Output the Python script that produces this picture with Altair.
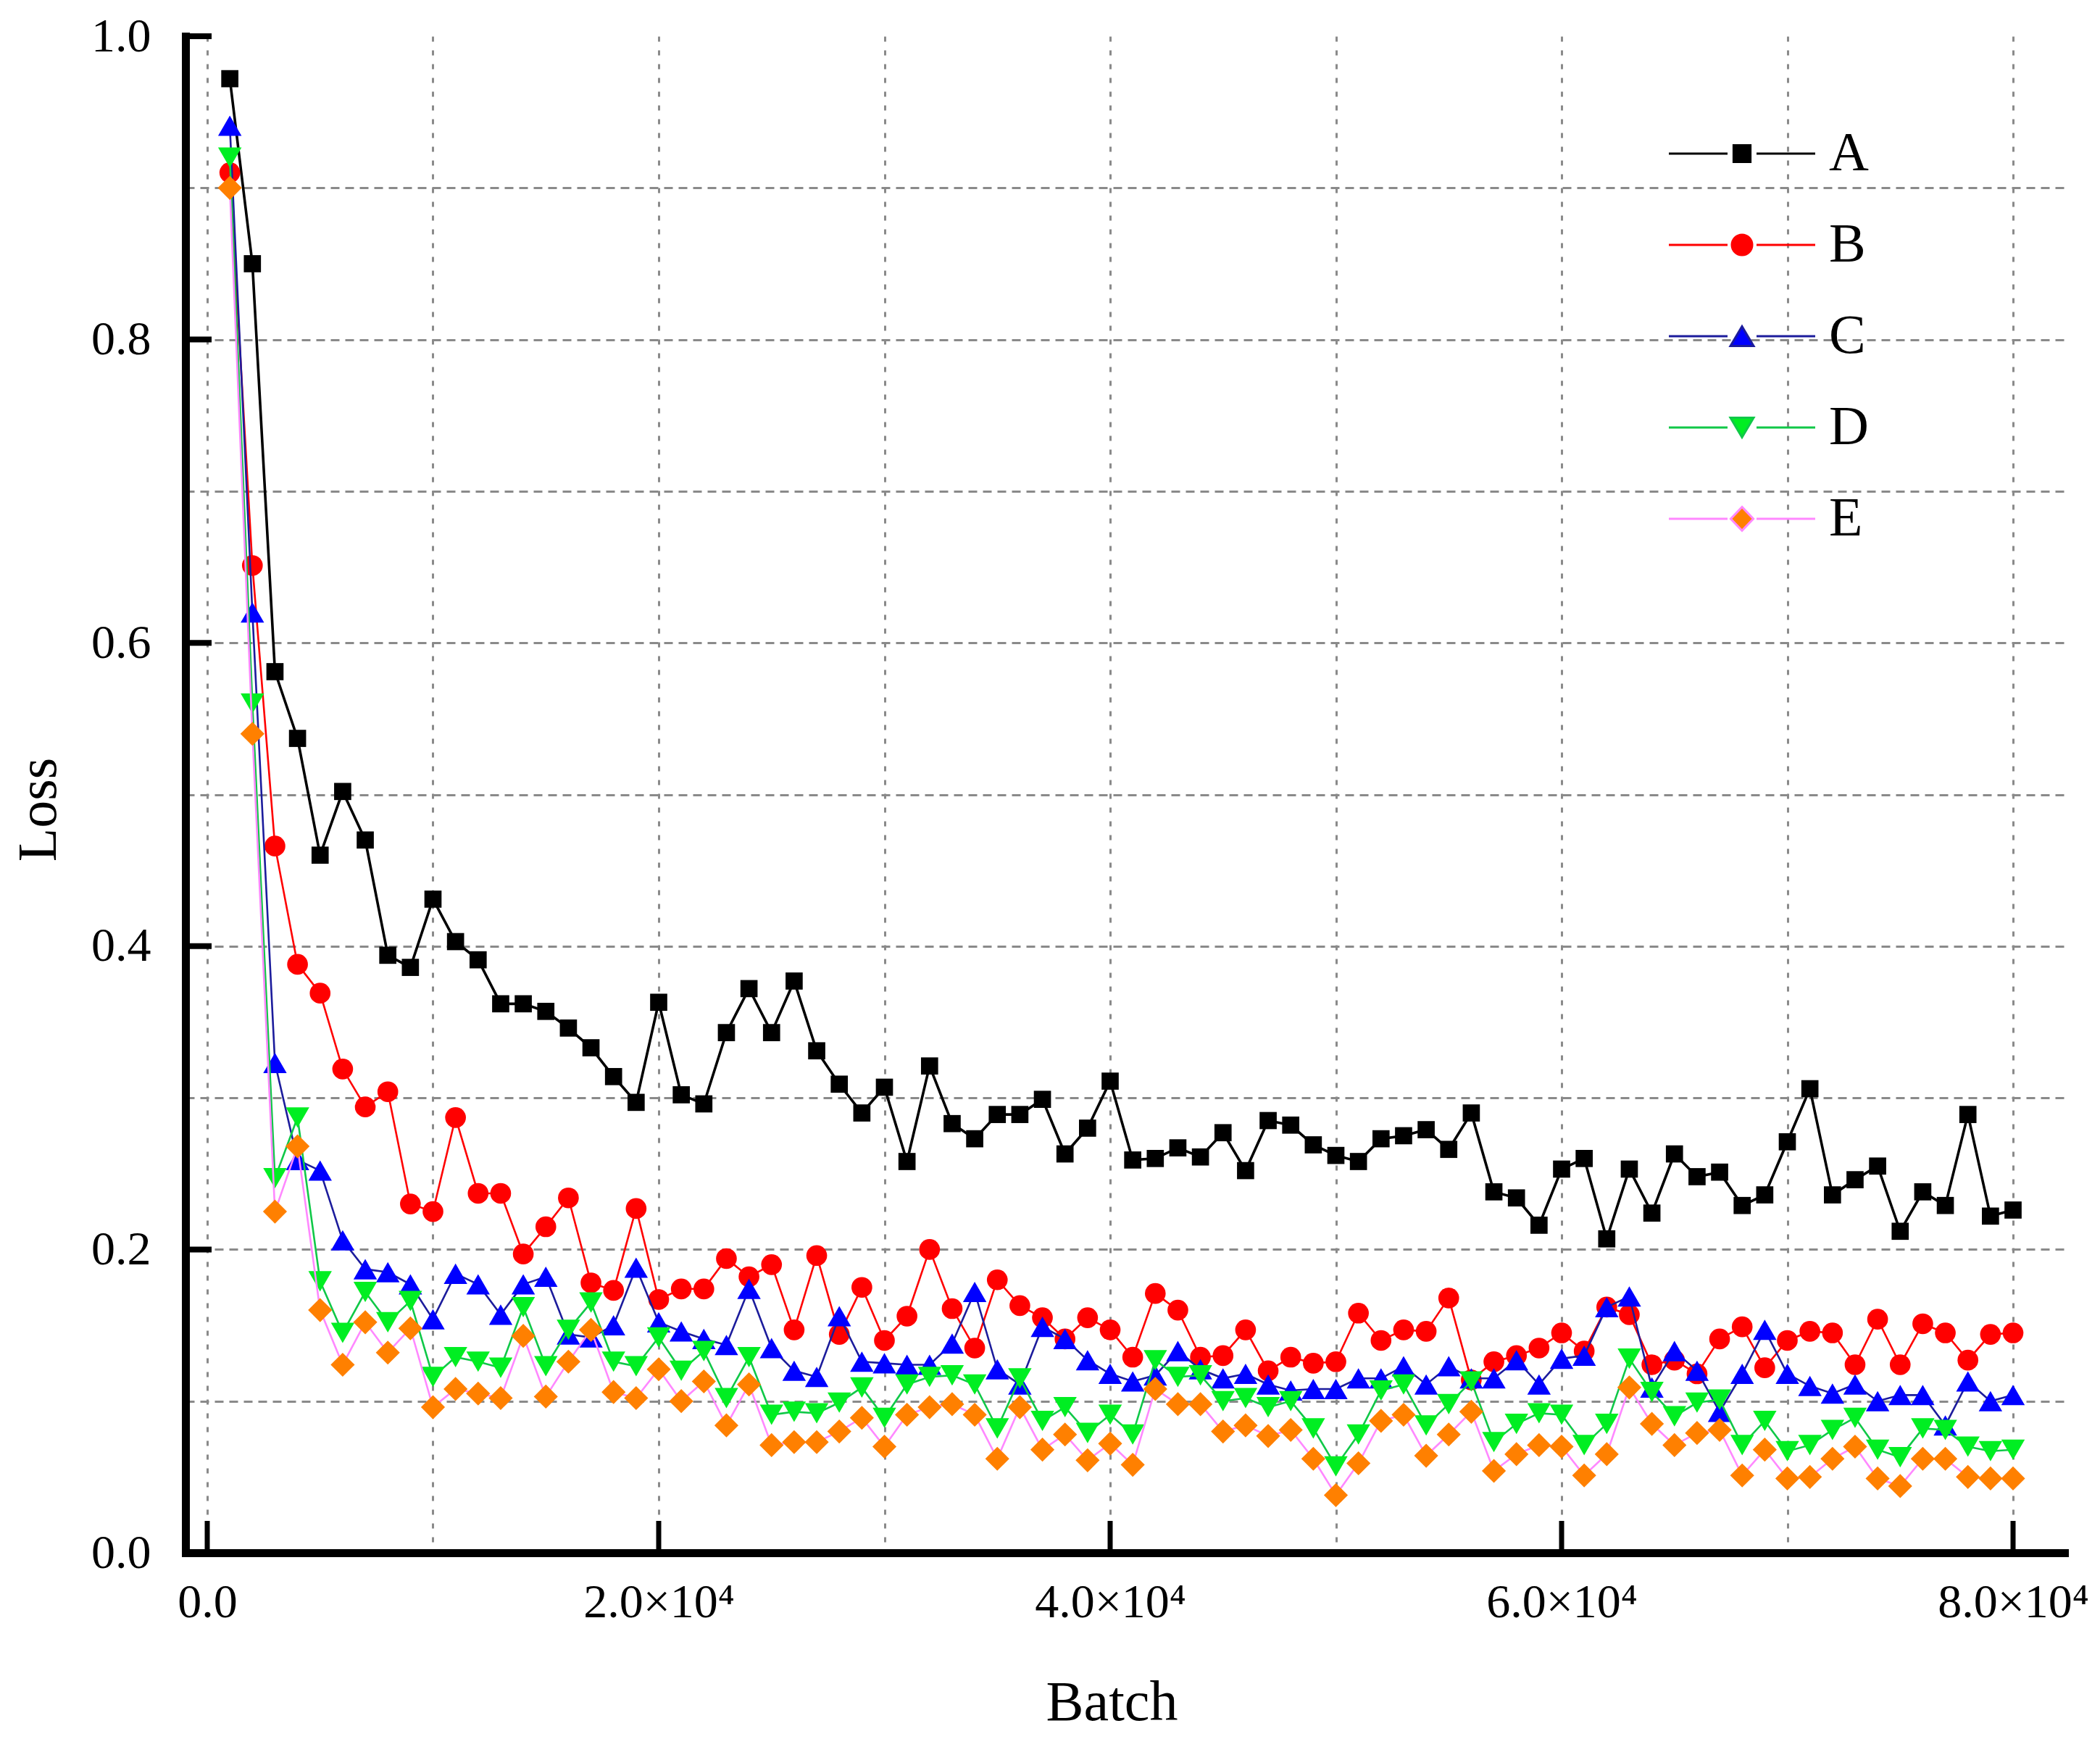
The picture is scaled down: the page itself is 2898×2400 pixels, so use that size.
import altair as alt
import pandas as pd

# ---------------- data ----------------
batch = list(range(1000, 80001, 1000))

loss_A = [0.972, 0.850, 0.581, 0.537, 0.460, 0.502, 0.470, 0.394, 0.386, 0.431,
          0.403, 0.391, 0.362, 0.362, 0.357, 0.346, 0.333, 0.314, 0.297, 0.363,
          0.302, 0.296, 0.343, 0.372, 0.343, 0.377, 0.331, 0.309, 0.290, 0.307,
          0.258, 0.321, 0.283, 0.273, 0.289, 0.289, 0.299, 0.263, 0.280, 0.311,
          0.259, 0.260, 0.267, 0.261, 0.277, 0.252, 0.285, 0.282, 0.269, 0.262,
          0.258, 0.273, 0.275, 0.279, 0.266, 0.290, 0.238, 0.234, 0.216, 0.253,
          0.260, 0.207, 0.253, 0.224, 0.263, 0.248, 0.251, 0.229, 0.236, 0.271,
          0.306, 0.236, 0.246, 0.255, 0.212, 0.238, 0.229, 0.289, 0.222, 0.226]

loss_B = [0.910, 0.651, 0.466, 0.388, 0.369, 0.319, 0.294, 0.304, 0.230, 0.225,
          0.287, 0.237, 0.237, 0.197, 0.215, 0.234, 0.178, 0.173, 0.227, 0.167,
          0.174, 0.174, 0.194, 0.182, 0.190, 0.147, 0.196, 0.144, 0.175, 0.140,
          0.156, 0.200, 0.161, 0.135, 0.180, 0.163, 0.155, 0.141, 0.155, 0.147,
          0.129, 0.171, 0.160, 0.129, 0.130, 0.147, 0.120, 0.129, 0.125, 0.126,
          0.158, 0.140, 0.147, 0.146, 0.168, 0.114, 0.126, 0.130, 0.135, 0.145,
          0.133, 0.162, 0.157, 0.124, 0.127, 0.118, 0.141, 0.149, 0.122, 0.140,
          0.146, 0.145, 0.124, 0.154, 0.124, 0.151, 0.145, 0.127, 0.144, 0.145]

loss_C = [0.941, 0.620, 0.323, 0.259, 0.252, 0.206, 0.187, 0.185, 0.177, 0.154,
          0.184, 0.177, 0.157, 0.177, 0.182, 0.144, 0.142, 0.150, 0.188, 0.152,
          0.146, 0.141, 0.137, 0.174, 0.135, 0.120, 0.116, 0.156, 0.126, 0.125,
          0.124, 0.124, 0.138, 0.172, 0.121, 0.111, 0.149, 0.141, 0.127, 0.118,
          0.113, 0.117, 0.133, 0.121, 0.115, 0.118, 0.111, 0.107, 0.108, 0.108,
          0.115, 0.115, 0.123, 0.111, 0.123, 0.115, 0.115, 0.127, 0.111, 0.128,
          0.130, 0.162, 0.169, 0.109, 0.133, 0.120, 0.093, 0.118, 0.147, 0.118,
          0.110, 0.105, 0.111, 0.100, 0.104, 0.104, 0.084, 0.113, 0.100, 0.104]

loss_D = [0.920, 0.560, 0.247, 0.287, 0.179, 0.145, 0.172, 0.152, 0.166, 0.116,
          0.129, 0.126, 0.122, 0.162, 0.123, 0.147, 0.165, 0.126, 0.123, 0.142,
          0.120, 0.133, 0.102, 0.129, 0.091, 0.093, 0.092, 0.099, 0.109, 0.089,
          0.111, 0.116, 0.117, 0.111, 0.082, 0.115, 0.087, 0.096, 0.079, 0.091,
          0.078, 0.127, 0.116, 0.117, 0.100, 0.102, 0.096, 0.100, 0.082, 0.057,
          0.078, 0.107, 0.111, 0.084, 0.098, 0.113, 0.073, 0.085, 0.092, 0.091,
          0.071, 0.085, 0.128, 0.106, 0.090, 0.099, 0.101, 0.071, 0.087, 0.067,
          0.071, 0.081, 0.089, 0.068, 0.063, 0.082, 0.081, 0.070, 0.067, 0.068]

loss_E = [0.900, 0.540, 0.225, 0.268, 0.160, 0.124, 0.152, 0.132, 0.148, 0.096,
          0.108, 0.105, 0.102, 0.143, 0.103, 0.126, 0.147, 0.106, 0.102, 0.121,
          0.100, 0.113, 0.084, 0.111, 0.071, 0.073, 0.073, 0.080, 0.089, 0.070,
          0.091, 0.096, 0.098, 0.091, 0.062, 0.096, 0.068, 0.078, 0.061, 0.072,
          0.058, 0.108, 0.098, 0.098, 0.080, 0.084, 0.077, 0.081, 0.062, 0.038,
          0.059, 0.087, 0.091, 0.064, 0.078, 0.093, 0.054, 0.065, 0.071, 0.070,
          0.051, 0.065, 0.109, 0.085, 0.071, 0.079, 0.081, 0.051, 0.068, 0.049,
          0.050, 0.062, 0.070, 0.049, 0.044, 0.062, 0.062, 0.050, 0.049, 0.049]

series_names = ["A", "B", "C", "D", "E"]
series_values = [loss_A, loss_B, loss_C, loss_D, loss_E]

x_grid_values = [0, 10000, 20000, 30000, 40000, 50000, 60000, 70000, 80000]
y_grid_values = [0.0, 0.1, 0.2, 0.3, 0.4, 0.5, 0.6, 0.7, 0.8, 0.9, 1.0]
x_tick_values = [0, 20000, 40000, 60000, 80000]
y_tick_values = [0.0, 0.2, 0.4, 0.6, 0.8, 1.0]

# ---------------- style ----------------
line_colors = ["#000000", "#ff0000", "#1c1c9c", "#10c848", "#ff88ff"]
marker_colors = ["#000000", "#ff0000", "#0000ff", "#00ee22", "#ff8000"]
marker_shapes = ["square", "circle", "triangle-up", "triangle-down", "diamond"]
marker_sizes = [560, 820, 1050, 1050, 1100]
line_widths = [3.6, 2.6, 2.6, 2.6, 2.6]

FONT = "Liberation Serif"
W, H = 2593, 2093
x_scale = alt.Scale(domain=[-963, 82279], nice=False, zero=False)
y_scale = alt.Scale(domain=[0, 1], nice=False, zero=False)

# legend symbols: line with a gap + marker (unit = sqrt(size)/2 = 20 px)
seg = "M-5.05,0L-1.0,0M1.0,0L5.05,0"
legend_paths = [
    seg + "M-0.58,-0.58L0.58,-0.58L0.58,0.58L-0.58,0.58Z",
    seg + "M-0.7,0A0.7,0.7,0,1,0,0.7,0A0.7,0.7,0,1,0,-0.7,0Z",
    seg + "M0,-0.68L0.8,0.68L-0.8,0.68Z",
    seg + "M0,0.68L0.8,-0.68L-0.8,-0.68Z",
    seg + "M0,-0.82L0.78,0L0,0.82L-0.78,0Z",
]

x_axis = alt.Axis(
    values=x_grid_values,
    labelExpr="datum.value % 20000 == 0 ? (datum.value == 0 ? '0.0' : format(datum.value / 10000, '.1f') + '×10⁴') : ''",
    ticks=False, grid=True, gridDash=[7, 12], gridColor="#8a8a8a", gridWidth=3,
    domain=True, domainColor="black", domainWidth=11, domainCap="square",
    labelFont=FONT, labelFontSize=66, labelColor="black", labelPadding=36,
    labelBaseline="top", labelOverlap=False, labelFlush=False, labelLimit=0,
    title="Batch", titleFont=FONT, titleFontSize=78, titleFontWeight="normal",
    titleColor="black", titleX=1278, titleY=207, titleBaseline="middle",
    titleAnchor="start", titleAlign="center",
)
y_axis = alt.Axis(
    values=y_grid_values,
    labelExpr="round(datum.value * 10) % 2 == 0 ? format(datum.value, '.1f') : ''",
    ticks=False, grid=True, gridDash=[12, 8], gridColor="#8a8a8a", gridWidth=3,
    gridOpacity={"condition": {"test": "datum.value >= 0.99", "value": 0}, "value": 1},
    domain=True, domainColor="black", domainWidth=11, domainCap="square",
    labelFont=FONT, labelFontSize=66, labelColor="black", labelPadding=48,
    labelOverlap=False, labelFlush=False, labelLimit=0,
    title="Loss", titleFont=FONT, titleFontSize=76, titleFontWeight="normal",
    titleColor="black", titleX=-203, titleY=1067, titleAngle=270,
    titleBaseline="middle", titleAlign="center", titleAnchor="start",
)

X = alt.X("batch:Q", scale=x_scale, axis=x_axis)
Y = alt.Y("loss:Q", scale=y_scale, axis=y_axis)

layers = []
for i, (name, vals) in enumerate(zip(series_names, series_values)):
    df = pd.DataFrame({"batch": batch, "loss": vals, "series": name})
    line = alt.Chart(df).mark_line(color=line_colors[i], strokeWidth=line_widths[i]).encode(x=X, y=Y)
    pts = alt.Chart(df).mark_point(
        filled=True, shape=marker_shapes[i], size=marker_sizes[i],
        color=marker_colors[i], opacity=1, strokeWidth=0,
    ).encode(x=X, y=Y)
    layers += [line, pts]

# inward axis ticks
ytick_df = pd.DataFrame({"loss": y_tick_values})
xtick_df = pd.DataFrame({"batch": x_tick_values})
ytick = alt.Chart(ytick_df).mark_rule(color="black", strokeWidth=8).encode(
    y=Y, x=alt.value(0), x2=alt.value(36))
xtick = alt.Chart(xtick_df).mark_rule(color="black", strokeWidth=7).encode(
    x=X, y=alt.value(H), y2=alt.value(H - 44))
layers += [ytick, xtick]

# legend (invisible carrier marks)
legend_df = pd.DataFrame({"series": series_names, "batch": [batch[0]] * 5, "loss": [loss_A[0]] * 5})
leg = alt.Legend(
    orient="none", legendX=2110, legendY=124, title=None,
    symbolSize=1600, symbolStrokeWidth=3, symbolOpacity=1,
    labelFont=FONT, labelFontSize=76, labelColor="black", labelOffset=82,
    rowPadding=50, padding=0,
)
legend_layer = alt.Chart(legend_df).mark_point(filled=True, opacity=0).encode(
    x=X, y=Y,
    fill=alt.Fill("series:N", scale=alt.Scale(domain=series_names, range=marker_colors), legend=leg),
    stroke=alt.Stroke("series:N", scale=alt.Scale(domain=series_names, range=line_colors), legend=leg),
    shape=alt.Shape("series:N", scale=alt.Scale(domain=series_names, range=legend_paths), legend=leg),
)
layers.append(legend_layer)

chart = alt.layer(*layers).properties(
    width=W, height=H,
    autosize=alt.AutoSizeParams(type="none"),
    padding={"left": 248, "top": 42, "right": 41, "bottom": 249},
    background="white",
).configure_view(stroke=None)

chart.save("out.html", embed_options={"renderer": "svg", "actions": False})
